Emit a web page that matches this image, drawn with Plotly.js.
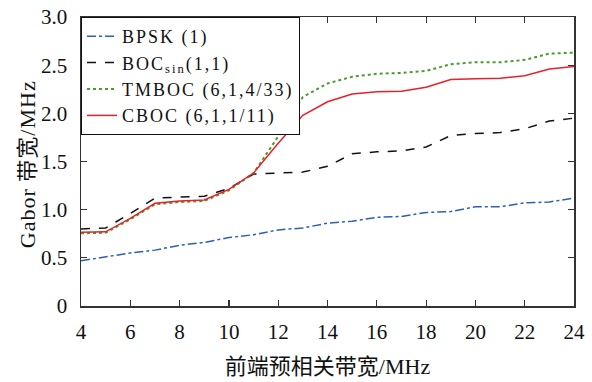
<!DOCTYPE html>
<html>
<head>
<meta charset="utf-8">
<script src="https://cdn.plot.ly/plotly-3.0.1.min.js"></script>
<style>
html,body{margin:0;padding:0;background:#fff;}
#chart{width:592px;height:382px;}
/* wider tracking for the legend entries and the vertical title */
.legendtext{letter-spacing:2px;}
.annotation-text{letter-spacing:1px;}
</style>
</head>
<body>
<div id="chart"></div>
<script>
// Front-end pre-correlation bandwidth (MHz)
const bandwidth = [4,5,6,7,8,9,10,11,12,13,14,15,16,17,18,19,20,21,22,23,24];

// Gabor bandwidth (MHz) for each modulation
const bpsk  = [0.47,0.51,0.55,0.58,0.63,0.66,0.71,0.74,0.79,0.81,0.86,0.88,0.92,0.93,0.97,0.98,1.03,1.03,1.07,1.08,1.12];
const bocSin = [0.80,0.81,0.96,1.12,1.13,1.14,1.22,1.37,1.38,1.39,1.45,1.58,1.60,1.61,1.65,1.77,1.79,1.80,1.84,1.92,1.95];
const tmboc = [0.755,0.76,0.90,1.055,1.08,1.09,1.20,1.38,1.76,2.17,2.31,2.38,2.41,2.42,2.44,2.51,2.53,2.53,2.555,2.62,2.63];
const cboc  = [0.765,0.77,0.91,1.066,1.09,1.10,1.21,1.38,1.69,1.98,2.12,2.20,2.225,2.23,2.27,2.35,2.36,2.365,2.39,2.46,2.485];

const seriesNames = ['BPSK (1)', 'BOC<sub>sin</sub>(1,1)', 'TMBOC (6,1,4/33)', 'CBOC (6,1,1/11)'];
const yTickVals = [0,0.5,1.0,1.5,2.0,2.5,3.0];
const yTickText = ['0','0.5','1.0','1.5','2.0','2.5','3.0'];
const xTickVals = [4,6,8,10,12,14,16,18,20,22,24];

const serif = 'Liberation Serif, Times New Roman, Noto Sans CJK SC, serif';

const traces = [
  {x: bandwidth, y: bpsk,   name: seriesNames[0], mode: 'lines', line: {color: '#2f5fb3', width: 1.5, dash: 'dashdot'}},
  {x: bandwidth, y: bocSin, name: seriesNames[1], mode: 'lines', line: {color: '#111111', width: 1.5, dash: 'dash'}},
  {x: bandwidth, y: tmboc,  name: seriesNames[2], mode: 'lines', line: {color: '#4f9a2e', width: 2, dash: 'dot'}},
  {x: bandwidth, y: cboc,   name: seriesNames[3], mode: 'lines', line: {color: '#e8202a', width: 1.5, dash: 'solid'}}
];

const axisCommon = {
  showline: true, linecolor: '#333', linewidth: 1.5,
  ticks: 'inside', ticklen: 6, tickwidth: 1.2, tickcolor: '#333',
  mirror: 'ticks', showgrid: false, zeroline: false,
  tickfont: {family: serif, size: 21, color: '#111'}
};

const layout = {
  width: 592, height: 382,
  margin: {l: 81, r: 18, t: 17, b: 76},
  paper_bgcolor: '#fff', plot_bgcolor: '#fff',
  font: {family: serif, color: '#111'},
  showlegend: true,
  legend: {
    x: 0, y: 1, xanchor: 'left', yanchor: 'top',
    bgcolor: '#fff', bordercolor: '#111', borderwidth: 1,
    font: {family: serif, size: 18, color: '#111'},
    tracegroupgap: 0, itemwidth: 30
  },
  xaxis: Object.assign({}, axisCommon, {
    range: [4, 24], tickvals: xTickVals, ticklabelstandoff: 6,
    title: {text: '前端预相关带宽/MHz', font: {family: serif, size: 22, color: '#111'}, standoff: 16}
  }),
  yaxis: Object.assign({}, axisCommon, {
    range: [0, 3], tickvals: yTickVals, ticktext: yTickText, ticklabelstandoff: 8
  }),
  // vertical axis title, placed just left of the tick labels
  annotations: [{
    text: 'Gabor 带宽/MHz', xref: 'paper', yref: 'paper',
    x: -0.108, y: 0.49, xanchor: 'center', yanchor: 'middle',
    textangle: -90, showarrow: false,
    font: {family: serif, size: 22, color: '#111'}
  }]
};

Plotly.newPlot('chart', traces, layout, {displayModeBar: false, staticPlot: true});
</script>
</body>
</html>
